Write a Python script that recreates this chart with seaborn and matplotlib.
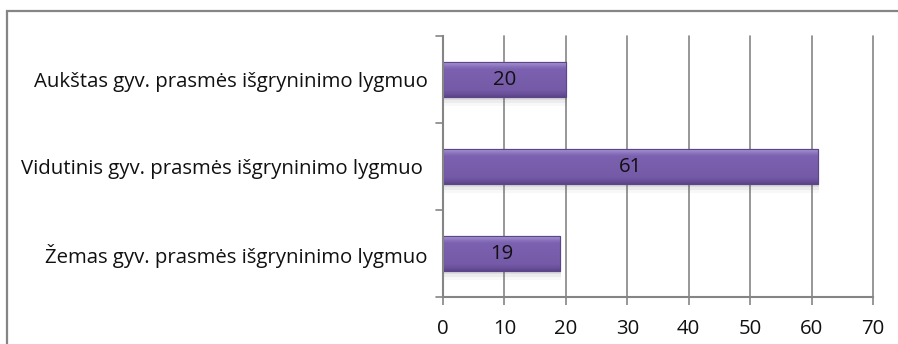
import numpy as np
import pandas as pd
import matplotlib
matplotlib.use("Agg")
import matplotlib.pyplot as plt
from matplotlib.colors import LinearSegmentedColormap
from matplotlib.patches import Rectangle
import seaborn as sns

categories = [
    "Aukštas gyv. prasmės išgryninimo lygmuo",
    "Vidutinis gyv. prasmės išgryninimo lygmuo ",
    "Žemas gyv. prasmės išgryninimo lygmuo",
]
values = [20, 61, 19]
x_ticks = [0, 10, 20, 30, 40, 50, 60, 70]

sns.set_theme(style="white")
plt.rcParams["font.family"] = ["Open Sans", "DejaVu Sans"]
FS = 14.7

df = pd.DataFrame({"kategorija": categories, "reiksme": values})

fig = plt.figure(figsize=(8.98, 3.44), dpi=100)
ax = fig.add_axes([0.4933, 0.1366, 0.9722 - 0.4933, 0.8953 - 0.1366])

sns.barplot(data=df, x="reiksme", y="kategorija", orient="h",
            color="#7459a8", width=0.4, ax=ax, zorder=3,
            edgecolor="#5a4688", linewidth=0.8)

ax.set_xlim(0, 70)
ax.set_ylim(2.5, -0.5)
ax.set_xticks(x_ticks)
ax.set_xticklabels([str(t) for t in x_ticks], fontsize=FS, color="#111111")
ax.set_xlabel("")
ax.set_ylabel("")

# vertical gridlines
for t in x_ticks[1:]:
    ax.axvline(t, color="#858585", linewidth=1.2, zorder=1, clip_on=False)

# category labels at the centres, short ticks at the boundaries
ax.set_yticks([0, 1, 2])
ax.set_yticklabels(categories, fontsize=FS, color="#111111")
ax.tick_params(axis="y", length=0, pad=11)
for b in [-0.5, 0.5, 1.5, 2.5]:
    ax.plot([-1.2, 0], [b, b], color="#858585", linewidth=1.2,
            clip_on=False, zorder=4)
ax.tick_params(axis="x", length=6, width=1.2, color="#858585",
               direction="out", bottom=True, pad=10)

for side in ["top", "right"]:
    ax.spines[side].set_visible(False)
for side in ["left", "bottom"]:
    ax.spines[side].set_color("#858585")
    ax.spines[side].set_linewidth(1.5)
    ax.spines[side].set_zorder(5)

# bevelled gradient fill and soft shadow for each bar
cmap = LinearSegmentedColormap.from_list(
    "bevel", [(0.0, "#a896d2"), (0.12, "#8a73bb"), (0.2, "#7c61b0"),
              (0.8, "#755aa8"), (0.9, "#6b519c"), (1.0, "#5b4488")])
grad = np.linspace(0, 1, 256).reshape(-1, 1)
for patch in list(ax.patches):
    x0, y0 = patch.get_x(), patch.get_y()
    w, h = patch.get_width(), patch.get_height()
    for k, a in enumerate([0.10, 0.07, 0.04]):
        ax.add_patch(Rectangle((x0 + 0.2, y0 + h), w, 0.04 + 0.03 * k,
                               facecolor="#555555", alpha=a,
                               edgecolor="none", zorder=2))
    im = ax.imshow(grad, cmap=cmap, aspect="auto",
                   extent=(x0, x0 + w, y0 + h, y0), zorder=3.5)
    im.set_clip_path(patch)
    ax.add_patch(Rectangle((x0, y0), w, h, facecolor="none",
                           edgecolor="#5a4688", linewidth=0.8, zorder=3.6))

ax.set_xlim(0, 70)
ax.set_ylim(2.5, -0.5)

for i, v in enumerate(values):
    ax.text(v / 2, i, str(v), ha="center", va="center",
            fontsize=FS, color="#111111", zorder=6)

# outer frame of the chart area
fig.patches.append(Rectangle((7 / 898, -0.1), 1.2, 1 - 11 / 344 + 0.1,
                             transform=fig.transFigure, fill=False,
                             edgecolor="#858585", linewidth=1.6))

fig.savefig("out.png", dpi=100)
